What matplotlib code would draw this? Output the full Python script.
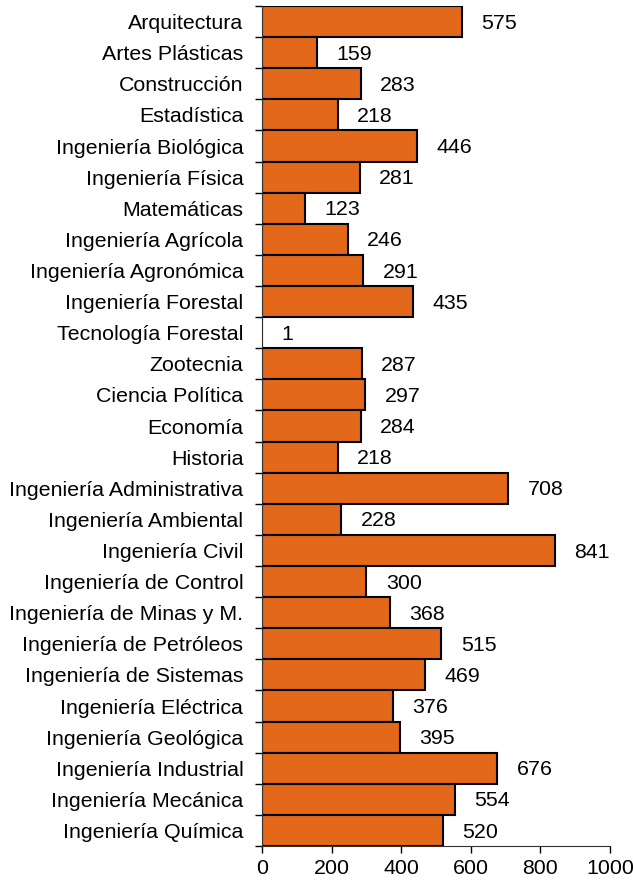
import matplotlib.pyplot as plt
import numpy as np

plt.rcParams['font.family'] = ['Liberation Sans', 'DejaVu Sans']

programs = [
    "Arquitectura", "Artes Plásticas", "Construcción", "Estadística",
    "Ingeniería Biológica", "Ingeniería Física", "Matemáticas",
    "Ingeniería Agrícola", "Ingeniería Agronómica", "Ingeniería Forestal",
    "Tecnología Forestal", "Zootecnia", "Ciencia Política", "Economía",
    "Historia", "Ingeniería Administrativa", "Ingeniería Ambiental",
    "Ingeniería Civil", "Ingeniería de Control", "Ingeniería de Minas y M.",
    "Ingeniería de Petróleos", "Ingeniería de Sistemas", "Ingeniería Eléctrica",
    "Ingeniería Geológica", "Ingeniería Industrial", "Ingeniería Mecánica",
    "Ingeniería Química",
]
counts = [575, 159, 283, 218, 446, 281, 123, 246, 291, 435, 1, 287, 297, 284,
          218, 708, 228, 841, 300, 368, 515, 469, 376, 395, 676, 554, 520]
x_ticks = [0, 200, 400, 600, 800, 1000]

fig = plt.figure(figsize=(6.33, 8.82), dpi=100)
ax = fig.add_axes([0.414, 0.0408, 0.5497, 0.9524])

y = np.arange(len(programs))
ax.barh(y, counts, height=1.0, color='#E3681A', edgecolor='black', linewidth=1.5)

for yi, v in zip(y, counts):
    ax.annotate(str(v), xy=(v, yi + 0.05), xytext=(14, 0), textcoords='offset points',
                ha='left', va='center', fontsize=15.4)

ax.set_ylim(len(programs) - 0.5, -0.5)
ax.set_xlim(0, 1000)
ax.set_xticks(x_ticks)
ax.set_xticklabels([str(t) for t in x_ticks], fontsize=15.4)
ax.set_yticks(y)
ax.set_yticklabels(programs, fontsize=15.4)
ax.set_yticks(np.arange(len(programs) + 1) - 0.5, minor=True)
ax.tick_params(axis='y', which='major', length=0, pad=13.5)
ax.tick_params(axis='y', which='minor', length=5, width=1, color='black')
ax.tick_params(axis='x', length=5, width=1, pad=4.5)

ax.spines['top'].set_visible(False)
ax.spines['right'].set_visible(False)
ax.spines['left'].set_color('#333333')
ax.spines['bottom'].set_color('#333333')

fig.savefig('out.png', dpi=100)
